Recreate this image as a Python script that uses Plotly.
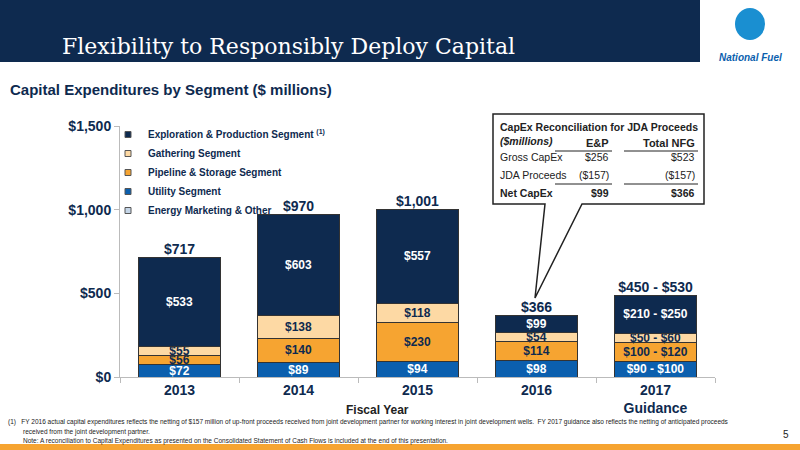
import plotly.graph_objects as go

years = ["2013", "2014", "2015", "2016", "2017<br>Guidance"]
utility = [72, 89, 94, 98, 95]
pipeline = [56, 140, 230, 114, 110]
gathering = [55, 138, 118, 54, 55]
exploration = [533, 603, 557, 99, 230]
energy_mkt = [1, 0, 2, 1, 0]
utility_lbl = ["$72", "$89", "$94", "$98", "$90 - $100"]
pipeline_lbl = ["$56", "$140", "$230", "$114", "$100 - $120"]
gathering_lbl = ["$55", "$138", "$118", "$54", "$50 - $60"]
exploration_lbl = ["$533", "$603", "$557", "$99", "$210 - $250"]
totals = [717, 970, 1001, 366, 490]
total_lbl = ["$717", "$970", "$1,001", "$366", "$450 - $530"]

NAVY = "#0e2a4f"
FONT = "Liberation Sans"

fig = go.Figure()
series = [
    ("Utility Segment", utility, utility_lbl, "#0b5fae", "white"),
    ("Pipeline & Storage Segment", pipeline, pipeline_lbl, "#f6a431", NAVY),
    ("Gathering Segment", gathering, gathering_lbl, "#fdd9a4", NAVY),
    ("Exploration & Production Segment <sup>(1)</sup>", exploration, exploration_lbl, NAVY, "white"),
    ("Energy Marketing & Other", energy_mkt, [""] * 5, "#c5d6e8", NAVY),
]
for name, vals, lbl, col, tcol in series:
    fig.add_trace(go.Bar(
        x=years, y=vals, showlegend=False, marker=dict(color=col, line=dict(color="#333", width=1)),
        text=["<b>%s</b>" % t if t else "" for t in lbl], textposition="inside", insidetextanchor="middle",
        textangle=0, textfont=dict(color=tcol, size=12, family=FONT), width=0.69))
# legend entries with small square swatches, in the reference's order
for i in [3, 2, 1, 0, 4]:
    name, vals, lbl, col, tcol = series[i]
    fig.add_trace(go.Scatter(
        x=[None], y=[None], mode="markers", name="<b>" + name + "</b>",
        marker=dict(symbol="square", size=6, color=col, line=dict(color="#555", width=1))))

fig.add_trace(go.Scatter(
    x=years, y=totals, mode="text", text=["<b>%s</b>" % t for t in total_lbl],
    textposition="top center", textfont=dict(size=14, color=NAVY, family=FONT),
    showlegend=False, cliponaxis=False))

L, R, T, B = 120, 85, 126, 73
PW, PH = 800 - L - R, 450 - T - B
def px(x): return (x - L) / PW
def py(y): return (450 - B - y) / PH

shapes = [
    dict(type="rect", xref="paper", yref="paper", x0=px(0), x1=px(800), y0=py(0), y1=py(62),
         fillcolor=NAVY, line_width=0, layer="below"),
    dict(type="rect", xref="paper", yref="paper", x0=px(700), x1=px(800), y0=py(0), y1=py(62),
         fillcolor="white", line_width=0, layer="below"),
    dict(type="rect", xref="paper", yref="paper", x0=px(0), x1=px(800), y0=py(444), y1=py(450),
         fillcolor="#f6a431", line_width=0, layer="below"),
    dict(type="circle", xref="paper", yref="paper", x0=px(735), x1=px(765), y0=py(8), y1=py(40),
         fillcolor="#1a8fd1", line_width=0),
    dict(type="path", xref="paper", yref="paper", line=dict(color="#222", width=1.5), fillcolor="white",
         path="M {a},{b} L {c},{b} L {c},{d} L {e},{d} L {f},{g} L {h},{d} L {a},{d} Z".format(
             a=px(493), b=py(114), c=px(704), d=py(204), e=px(582), f=px(535), g=py(298), h=px(545))),
]

ann = []
def text(x, y, s, size, color=NAVY, xa="left", fam=FONT):
    ann.append(dict(xref="paper", yref="paper", x=px(x), y=py(y), text=s, showarrow=False, xanchor=xa,
                    yanchor="middle", font=dict(size=size, color=color, family=fam)))

text(60, 46, "Flexibility to Responsibly Deploy Capital", 22, "white", fam="DejaVu Serif")
text(750, 57, "<b><i>National Fuel</i></b>", 10, "#0b5fae", "center")
text(8, 90, "<b>Capital Expenditures by Segment ($ millions)</b>", 15)
text(498, 127, "<b>CapEx Reconciliation for JDA Proceeds</b>", 10.5, "#222")
text(498, 141, "<b><i>($millions)</i></b>", 10.5, "#222")
text(611, 143, "<b>E&P</b>", 11, "#222", "right")
text(697, 143, "<b>Total NFG</b>", 11, "#222", "right")
rows = [("Gross CapEx", "$256", "$523", False), ("JDA Proceeds", "($157)", "($157)", False),
        ("Net CapEx", "$99", "$366", True)]
for i, (a, b, c, bold) in enumerate(rows):
    f = (lambda s: "<b>%s</b>" % s) if bold else (lambda s: s)
    yy = 157 + i * 18
    text(498, yy, f(a), 10.5, "#222")
    text(611, yy, f(b), 10.5, "#222", "right")
    text(697, yy, f(c), 10.5, "#222", "right")
for (x0, x1) in [(555, 612), (624, 698)]:
    for yy in (151, 184):
        shapes.append(dict(type="line", xref="paper", yref="paper", x0=px(x0), x1=px(x1), y0=py(yy), y1=py(yy),
                           line=dict(color="#222", width=1)))
text(377, 410, "<b>Fiscal Year</b>", 12, "#222", "center")
text(6, 422, "(1)   FY 2016 actual capital expenditures reflects the netting of $157 million of up-front proceeds received from joint development partner for working interest in joint development wells.  FY 2017 guidance also reflects the netting of anticipated proceeds", 6.5, "#222")
text(21, 432, "received from the joint development partner.", 6.5, "#222")
text(21, 441, "Note: A reconciliation to Capital Expenditures as presented on the Consolidated Statement of Cash Flows is included at the end of this presentation.", 6.5, "#222")
text(786, 434, "5", 10, "#222", "center")

fig.update_layout(
    width=800, height=450, margin=dict(l=L, r=R, t=T, b=B), barmode="stack",
    plot_bgcolor="white", paper_bgcolor="white", font=dict(family=FONT, color=NAVY),
    shapes=shapes, annotations=ann, bargap=0.31,
    uniformtext=dict(minsize=12, mode="show"),
    legend=dict(x=px(108), y=py(120), xanchor="left", yanchor="top", traceorder="normal",
                font=dict(size=10, color=NAVY), bgcolor="rgba(0,0,0,0)", itemwidth=30, tracegroupgap=0),
    yaxis=dict(range=[0, 1500], tickvals=[0, 500, 1000, 1500], ticktext=["<b>$0</b>", "<b>$500</b>", "<b>$1,000</b>", "<b>$1,500</b>"],
               tickfont=dict(size=14, color=NAVY), showgrid=False, showline=True, linecolor="#bbb",
               ticks="outside", tickcolor="#bbb", ticklen=5, zeroline=False),
    xaxis=dict(tickfont=dict(size=14, color=NAVY), showline=True, linecolor="#bbb", ticks="outside",
               tickson="boundaries", tickcolor="#bbb", ticklen=5,
               ticktext=["<b>%s</b>" % y for y in years], tickvals=years),
)
fig.write_html("out.html", config={"displayModeBar": False},
               post_script="document.body.style.margin='0';")
